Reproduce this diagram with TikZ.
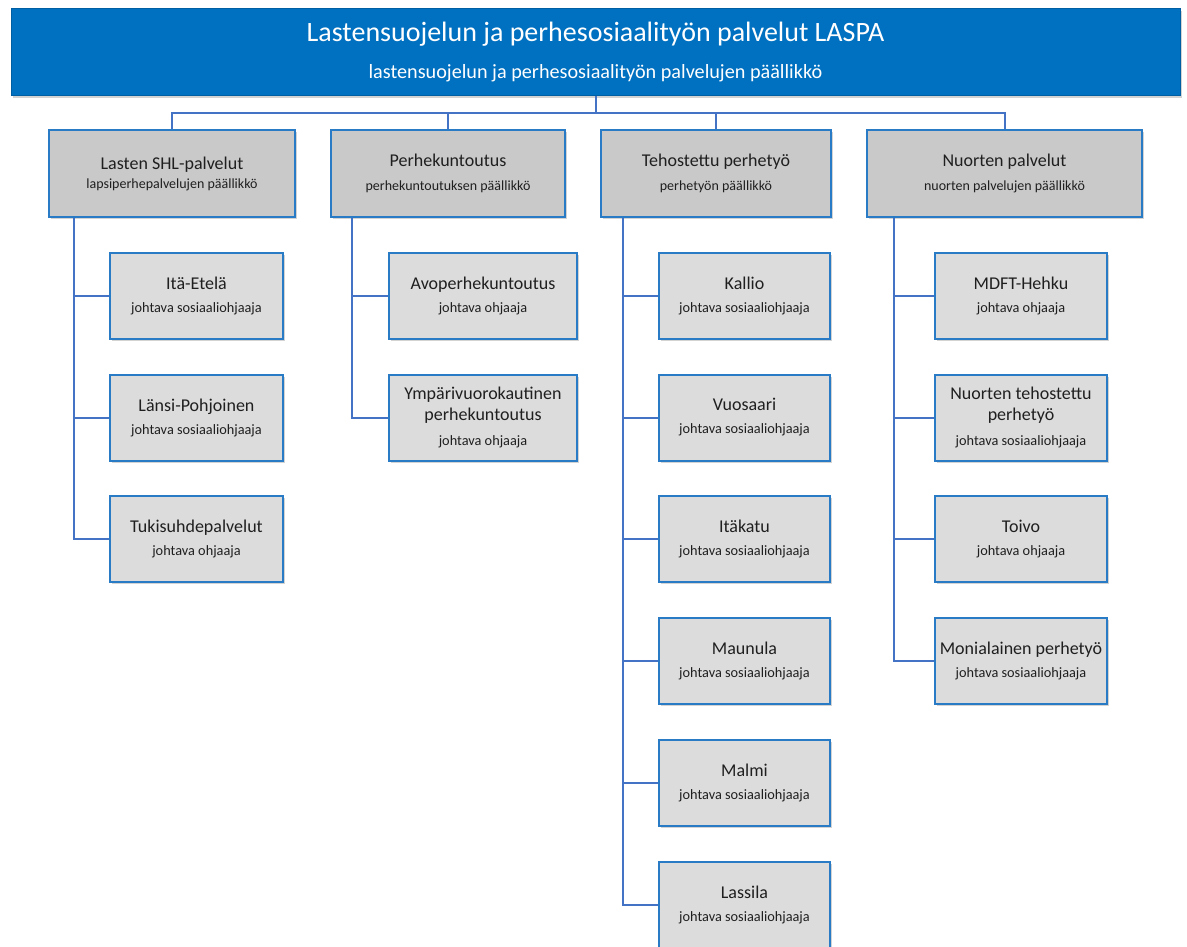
\documentclass[tikz,border=0pt]{standalone}
\usepackage{fontspec}
\setmainfont{Carlito}
\usetikzlibrary{shadows}

\definecolor{laspablue}{HTML}{0070C0}
\definecolor{boxborder}{HTML}{2A7BC6}
\definecolor{linkblue}{HTML}{4472C4}
\definecolor{unitgray}{HTML}{C9C9C9}
\definecolor{teamgray}{HTML}{DCDCDC}
\definecolor{textgray}{HTML}{1F1F1F}

\newcommand{\laspafont}{\fontsize{28}{37}\selectfont}
\newcommand{\laspasubfont}{\fontsize{20.2}{24}\selectfont}
\newcommand{\unitfont}{\fontsize{18}{24}\selectfont}
\newcommand{\unitrolefont}{\fontsize{14}{16}\selectfont}
\newcommand{\teamfont}{\fontsize{18}{23}\selectfont}
\newcommand{\teamrolefont}{\fontsize{14.3}{17}\selectfont}

\tikzset{
  laspa/.style={draw=laspablue!85!black, line width=1pt, fill=laspablue, text=white,
    align=center, inner sep=0pt, minimum width=1169pt, minimum height=87pt,
    font=\laspafont,
    drop shadow={shadow xshift=2pt, shadow yshift=-2pt, opacity=0.35}},
  unit/.style={draw=boxborder, line width=2pt, fill=unitgray, text=textgray,
    align=center, inner sep=0pt, minimum height=87pt, font=\unitfont,
    drop shadow={shadow xshift=2pt, shadow yshift=-2pt, opacity=0.35}},
  team/.style={unit, fill=teamgray, minimum height=86pt, font=\teamfont},
  link/.style={draw=linkblue, line width=2pt},
}

\begin{document}
\begin{tikzpicture}[x=1pt, y=-1pt]
  \useasboundingbox (0,0) rectangle (1187,947);

  % top level
  \node[laspa] (top) at (595.5,52.5)
    {Lastensuojelun ja perhesosiaalityön palvelut LASPA\\
     {\laspasubfont lastensuojelun ja perhesosiaalityön palvelujen päällikkö}};

  % units
  \node[unit, minimum width=246pt] (lasten) at (172,173.5)
    {Lasten SHL-palvelut\\[-5pt]{\unitrolefont lapsiperhepalvelujen päällikkö}};
  \node[unit, minimum width=234pt] (perhe) at (448,173.5)
    {Perhekuntoutus\\{\unitrolefont perhekuntoutuksen päällikkö}};
  \node[unit, minimum width=230pt] (teho) at (716,173.5)
    {Tehostettu perhetyö\\{\unitrolefont perhetyön päällikkö}};
  \node[unit, minimum width=275pt] (nuoret) at (1004.5,173.5)
    {Nuorten palvelut\\{\unitrolefont nuorten palvelujen päällikkö}};

  % Lasten SHL-palvelut
  \node[team, minimum width=173pt] (itaetela) at (196.5,296)
    {Itä-Etelä\\{\teamrolefont johtava sosiaaliohjaaja}};
  \node[team, minimum width=173pt] (lansipohjoinen) at (196.5,417.5)
    {Länsi-Pohjoinen\\{\teamrolefont johtava sosiaaliohjaaja}};
  \node[team, minimum width=173pt] (tukisuhde) at (196.5,539)
    {Tukisuhdepalvelut\\{\teamrolefont johtava ohjaaja}};

  % Perhekuntoutus
  \node[team, minimum width=188pt] (avo) at (483,296)
    {Avoperhekuntoutus\\{\teamrolefont johtava ohjaaja}};
  \node[team, minimum width=188pt] (ympari) at (483,417.5)
    {Ympärivuorokautinen\\[-2pt]perhekuntoutus\\[2pt]{\teamrolefont johtava ohjaaja}};

  % Tehostettu perhetyö
  \node[team, minimum width=171pt] (kallio) at (744.5,296)
    {Kallio\\{\teamrolefont johtava sosiaaliohjaaja}};
  \node[team, minimum width=171pt] (vuosaari) at (744.5,417.5)
    {Vuosaari\\{\teamrolefont johtava sosiaaliohjaaja}};
  \node[team, minimum width=171pt] (itakatu) at (744.5,539)
    {Itäkatu\\{\teamrolefont johtava sosiaaliohjaaja}};
  \node[team, minimum width=171pt] (maunula) at (744.5,660.5)
    {Maunula\\{\teamrolefont johtava sosiaaliohjaaja}};
  \node[team, minimum width=171pt] (malmi) at (744.5,783)
    {Malmi\\{\teamrolefont johtava sosiaaliohjaaja}};
  \node[team, minimum width=171pt] (lassila) at (744.5,905)
    {Lassila\\{\teamrolefont johtava sosiaaliohjaaja}};

  % Nuorten palvelut
  \node[team, minimum width=172pt] (mdft) at (1021,296)
    {MDFT-Hehku\\{\teamrolefont johtava ohjaaja}};
  \node[team, minimum width=172pt] (nuortenteho) at (1021,417.5)
    {Nuorten tehostettu\\[-2pt]perhetyö\\[2pt]{\teamrolefont johtava sosiaaliohjaaja}};
  \node[team, minimum width=172pt] (toivo) at (1021,539)
    {Toivo\\{\teamrolefont johtava ohjaaja}};
  \node[team, minimum width=172pt] (monialainen) at (1021,660.5)
    {Monialainen perhetyö\\{\teamrolefont johtava sosiaaliohjaaja}};

  % connectors
  \coordinate (bus) at (595.5,113);
  \foreach \u in {lasten,perhe,teho,nuoret}
    \draw[link] (top.south) -- (bus) -| (\u.north);

  \foreach \t in {itaetela,lansipohjoinen,tukisuhde}
    \draw[link] ([xshift=26pt]lasten.south west) |- (\t.west);
  \foreach \t in {avo,ympari}
    \draw[link] ([xshift=22pt]perhe.south west) |- (\t.west);
  \foreach \t in {kallio,vuosaari,itakatu,maunula,malmi,lassila}
    \draw[link] ([xshift=23pt]teho.south west) |- (\t.west);
  \foreach \t in {mdft,nuortenteho,toivo,monialainen}
    \draw[link] ([xshift=28pt]nuoret.south west) |- (\t.west);
\end{tikzpicture}
\end{document}
